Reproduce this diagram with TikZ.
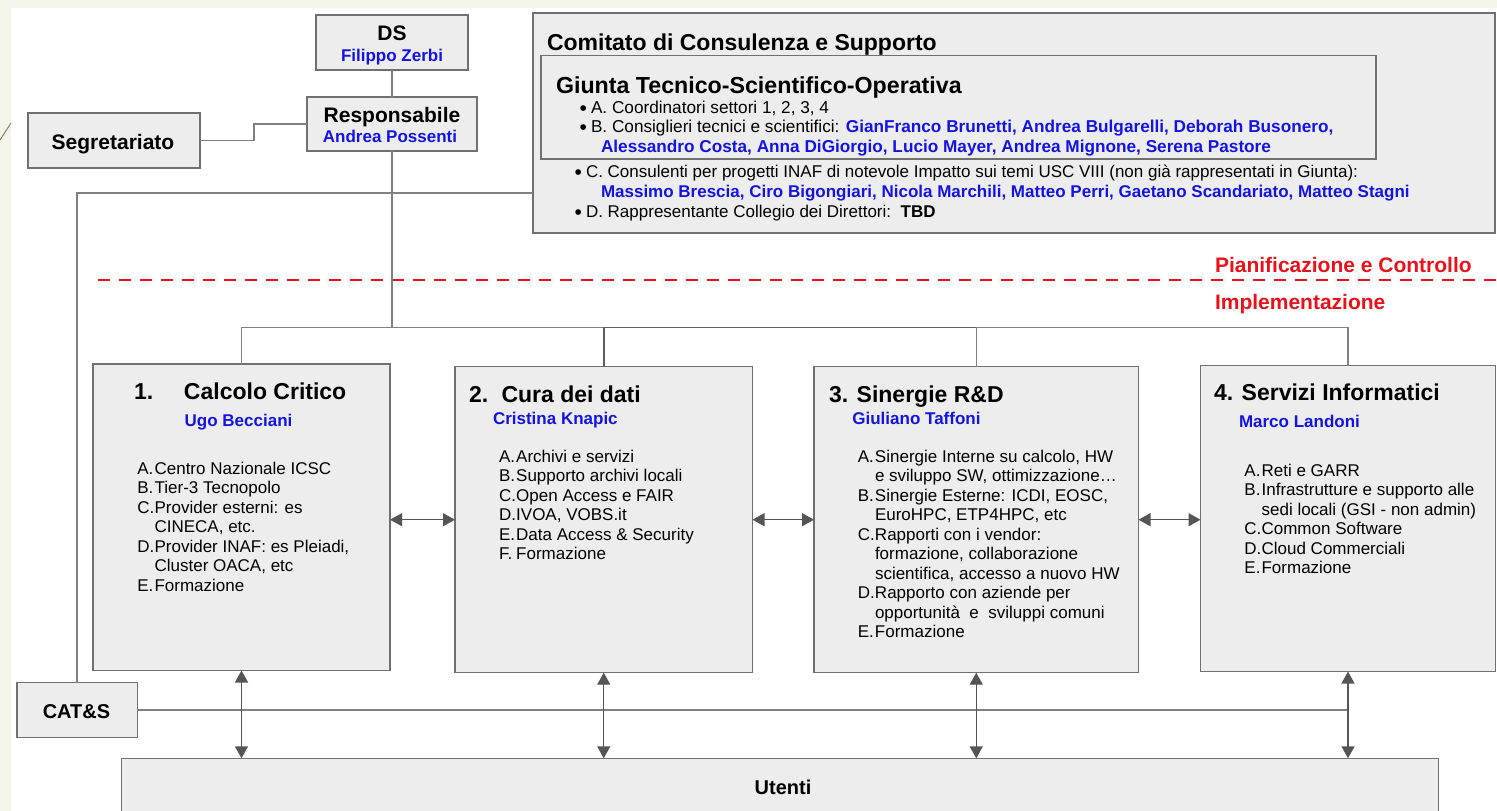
\documentclass[tikz,border=0pt]{standalone}
\usepackage{fontspec}
\setmainfont{Liberation Sans}
\usetikzlibrary{arrows.meta,fit}
\definecolor{bgbeige}{RGB}{244,244,233}
\definecolor{boxfill}{RGB}{237,237,237}
\definecolor{boxline}{RGB}{112,112,112}
\definecolor{linegray}{RGB}{128,128,128}
\definecolor{darkline}{RGB}{95,95,95}
\definecolor{arrowgray}{RGB}{85,85,85}
\definecolor{nameblue}{RGB}{20,20,225}
\definecolor{sepred}{RGB}{232,18,28}
\definecolor{decocol}{RGB}{140,130,95}
\newcommand{\fsz}[2]{\fontsize{#1}{#2}\selectfont}
\newcommand{\lab}[1]{\makebox[17.2pt][l]{#1}}
\newcommand{\cnt}{\hspace*{17.2pt}}
\newcommand{\nm}[1]{{\bfseries\color{nameblue}#1}}
\newcommand{\blt}{\makebox[10pt][l]{\hspace*{-1.5pt}\raisebox{-2.2pt}{\fontsize{21}{21}\selectfont •}}}
\tikzset{
 orgbox/.style={draw=boxline, fill=boxfill, line width=1.4pt, inner sep=0pt, outer sep=0pt},
 conn/.style={draw=linegray, line width=1.3pt},
 connd/.style={draw=darkline, line width=1.8pt},
 dbl/.style={draw=arrowgray, line width=1.4pt, {Triangle[length=12pt,width=13pt]}-{Triangle[length=12pt,width=13pt]}},
 txt/.style={inner sep=0pt, outer sep=0pt, anchor=base west},
 ctxt/.style={inner sep=0pt, outer sep=0pt, anchor=base},
 hbig/.style={font=\bfseries\fsz{21}{24}},
 htitle/.style={font=\bfseries\fsz{23}{26}},
 hname/.style={font=\bfseries\fsz{17}{20}, text=nameblue},
 litem/.style={font=\fsz{17}{19.5}},
 gitem/.style={font=\fsz{17.2}{19.5}},
 gitemb/.style={font=\fsz{17}{20}},
 redlab/.style={font=\bfseries\fsz{21}{24}, text=sepred},
}
\begin{document}
\begin{tikzpicture}[x=1pt,y=-1pt]
\useasboundingbox (0,0) rectangle (1497,811);
\fill[bgbeige] (0,0) rectangle (1497,811);
\fill[white] (11,8) rectangle (1497,811);
\draw[decocol, line width=1pt] (0,140) -- (11,123);

% boxes
\node[orgbox, fit={(316,15) (468,70)}] (ds) {};
\node[orgbox, fit={(307,97) (477,151)}] (resp) {};
\node[orgbox, fit={(28,113) (200,168)}] (segr) {};
\node[orgbox, fit={(533,13) (1495,233)}] (com) {};
\node[orgbox, fit={(541,55.5) (1376,159)}] (giunta) {};
\node[orgbox, fit={(93,364) (390,670.5)}] (b1) {};
\node[orgbox, fit={(455,366.7) (752.5,672.7)}] (b2) {};
\node[orgbox, fit={(814,366.7) (1138.5,672.7)}] (b3) {};
\node[orgbox, fit={(1200.5,365.7) (1495.5,671.5)}] (b4) {};
\node[orgbox, fit={(17,682.7) (137.3,737.3)}] (cats) {};
\node[orgbox, fit={(121.3,758.3) (1438.3,830)}] (ut) {};

% top texts
\node[ctxt, hbig] (dsT) at (392,40.8) {DS};
\node[ctxt, hname] (dsN) at (392,61) {Filippo Zerbi};
\node[ctxt, hbig] (respT) at (392,122.5) {Responsabile};
\node[ctxt, hname] (respN) at (390,142.5) {Andrea Possenti};
\node[ctxt, hbig] (segrT) at (113,149.2) {Segretariato};
\node[ctxt, hbig, font=\bfseries\fsz{20}{24}] (catsT) at (76.5,718.9) {CAT\&S};
\node[ctxt, hbig, font=\bfseries\fsz{20}{24}] (utT) at (783,794) {Utenti};

% comitato
\node[txt, htitle] (comT) at (547,50) {Comitato di Consulenza e Supporto};
\node[txt, htitle, font=\bfseries\fsz{23.2}{26}] (giuT) at (556,93) {Giunta Tecnico-Scientifico-Operativa};
\node[txt, gitem] (giuL) at (581,113) {\begin{tabular}[t]{@{}l@{}}
\blt A. Coordinatori settori 1, 2, 3, 4\\
\blt B. Consiglieri tecnici e scientifici: \nm{GianFranco Brunetti, Andrea Bulgarelli, Deborah Busonero,}\\
\hspace*{20pt}\nm{Alessandro Costa, Anna DiGiorgio, Lucio Mayer, Andrea Mignone, Serena Pastore}
\end{tabular}};
\node[txt, gitemb] (comL) at (576,177) {\begin{tabular}[t]{@{}l@{}}
\blt C. Consulenti per progetti INAF di notevole Impatto sui temi USC VIII (non già rappresentati in Giunta):\\
\hspace*{25pt}\nm{Massimo Brescia, Ciro Bigongiari, Nicola Marchili, Matteo Perri, Gaetano Scandariato, Matteo Stagni}\\
\blt D. Rappresentante Collegio dei Direttori:\ \ \textbf{TBD}
\end{tabular}};

% separator
\coordinate (sepL) at (97.5,280);
\coordinate (sepR) at (1497,280);
\draw[sepred, line width=2.5pt, dash pattern=on 12pt off 9pt] (sepL) -- (sepR);
\node[txt, redlab] (pianT) at (1215,272.5) {Pianificazione e Controllo};
\node[txt, redlab] (implT) at (1215,309.5) {Implementazione};

% box 1
\node[txt, htitle] (b1T) at (134,399.7) {\makebox[50pt][l]{1.}Calcolo Critico};
\node[txt, hname] (b1N) at (184.7,426) {Ugo Becciani};
\node[txt, litem] (b1L) at (137.4,474) {\begin{tabular}[t]{@{}l@{}}
\lab{A.}Centro Nazionale ICSC\\
\lab{B.}Tier-3 Tecnopolo\\
\lab{C.}Provider esterni: es\\
\cnt CINECA, etc.\\
\lab{D.}Provider INAF: es Pleiadi,\\
\cnt Cluster OACA, etc\\
\lab{E.}Formazione
\end{tabular}};

% box 2
\node[txt, htitle] (b2T) at (469,402) {\makebox[32.5pt][l]{2.}Cura dei dati};
\node[txt, hname] (b2N) at (493,424) {Cristina Knapic};
\node[txt, litem] (b2L) at (499,462) {\begin{tabular}[t]{@{}l@{}}
\lab{A.}Archivi e servizi\\
\lab{B.}Supporto archivi locali\\
\lab{C.}Open Access e FAIR\\
\lab{D.}IVOA, VOBS.it\\
\lab{E.}Data Access \& Security\\
\lab{F.}Formazione
\end{tabular}};

% box 3
\node[txt, htitle] (b3T) at (829,402) {3. Sinergie R\&D};
\node[txt, hname] (b3N) at (852.4,424) {Giuliano Taffoni};
\node[txt, litem] (b3L) at (857.8,462) {\begin{tabular}[t]{@{}l@{}}
\lab{A.}Sinergie Interne su calcolo, HW\\
\cnt e sviluppo SW, ottimizzazione…\\
\lab{B.}Sinergie Esterne: ICDI, EOSC,\\
\cnt EuroHPC, ETP4HPC, etc\\
\lab{C.}Rapporti con i vendor:\\
\cnt formazione, collaborazione\\
\cnt scientifica, accesso a nuovo HW\\
\lab{D.}Rapporto con aziende per\\
\cnt opportunità\ \ e\ \ sviluppi comuni\\
\lab{E.}Formazione
\end{tabular}};

% box 4
\node[txt, htitle] (b4T) at (1214,400.7) {4. Servizi Informatici};
\node[txt, hname] (b4N) at (1239,427.7) {Marco Landoni};
\node[txt, litem] (b4L) at (1244.4,476) {\begin{tabular}[t]{@{}l@{}}
\lab{A.}Reti e GARR\\
\lab{B.}Infrastrutture e supporto alle\\
\cnt sedi locali (GSI - non admin)\\
\lab{C.}Common Software\\
\lab{D.}Cloud Commerciali\\
\lab{E.}Formazione
\end{tabular}};

% connectors
\draw[conn] (ds.south) -- (resp.north);
\draw[conn] (segr.east) -- ++(54,0) |- (resp.west);
\coordinate (j) at (392,327.5);
\coordinate (kk) at (77,193);
\draw[conn] (resp.south) -- (j);
\draw[conn] (com.west |- kk) -- (kk) -- (kk |- cats.north);
\draw[conn] (b1.north) -- (b1.north |- j) -- (b2.north |- j);
\draw[connd] (b2.north) -- (b2.north |- j) -- (b3.north |- j);
\draw[conn] (b3.north) -- (b3.north |- j) -- (b4.north |- j) -- (b4.north);
\draw[conn] (cats.east) -- (cats.east -| b4.south);

\draw[dbl] (b1.east |- b2.west) -- (b2.west);
\draw[dbl] (b2.east) -- (b3.west);
\draw[dbl] (b3.east) -- (b3.east -| b4.west);
\draw[dbl] (b1.south) -- (b1.south |- ut.north);
\draw[dbl] (b2.south) -- (b2.south |- ut.north);
\draw[dbl] (b3.south) -- (b3.south |- ut.north);
\draw[dbl] (b4.south) -- (b4.south |- ut.north);
\end{tikzpicture}
\end{document}
